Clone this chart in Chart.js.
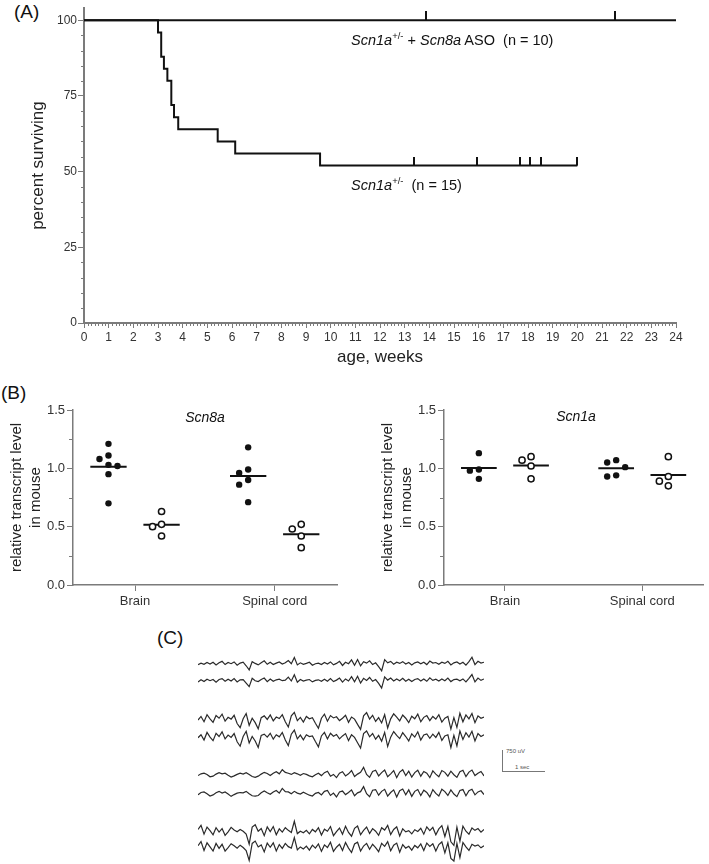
<!DOCTYPE html>
<html>
<head>
<meta charset="utf-8">
<script src="https://cdn.jsdelivr.net/npm/chart.js@4/dist/chart.umd.min.js"></script>
<style>
  body { margin: 0; background: #fff; }
  #fig { position: relative; width: 709px; height: 864px; font-family: Arial, "Liberation Sans", sans-serif; color: #111; overflow: hidden; }
  #fig canvas, .txt { position: absolute; }
  .panel { position: absolute; font-size: 19px; line-height: 19px; }
  .curve { position: absolute; font-size: 14.5px; line-height: 16px; white-space: nowrap; }
  .curve sup { font-size: 9.5px; vertical-align: 6px; line-height: 0; }
  .gene { position: absolute; width: 100px; text-align: center; font-size: 14px; line-height: 16px; font-style: italic; }
  .bar { position: absolute; background: #777; }
  .barText { position: absolute; font-size: 6px; line-height: 6px; color: #555; white-space: nowrap; }
</style>
</head>
<body>
<div id="fig">
  <div class="panel" style="left:14px;top:2px">(A)</div>
  <canvas id="survival" width="709" height="372" style="left:0;top:0"></canvas>
  <div class="curve" style="left:351px;top:32px"><i>Scn1a</i><sup>+/-</sup> + <i>Scn8a</i> ASO&nbsp;&nbsp;(n = 10)</div>
  <div class="curve" style="left:351px;top:177px"><i>Scn1a</i><sup>+/-</sup>&nbsp;&nbsp;(n = 15)</div>

  <div class="panel" style="left:1px;top:383px">(B)</div>
  <canvas id="scn8a" width="350" height="225" style="left:0;top:395px"></canvas>
  <canvas id="scn1a" width="359" height="225" style="left:350px;top:395px"></canvas>
  <div class="gene" style="left:155px;top:409px">Scn8a</div>
  <div class="gene" style="left:526px;top:408px">Scn1a</div>

  <div class="panel" style="left:157px;top:628px">(C)</div>
  <div class="bar" style="left:502px;top:750px;width:1px;height:21px"></div>
  <div class="bar" style="left:502px;top:771px;width:43px;height:1px"></div>
  <div class="barText" style="left:506px;top:748px">750 uV</div>
  <div class="barText" style="left:515px;top:764px">1 sec</div>
</div>
<script>
// ---- (A) survival ----
const weekTicks = [0, 1, 2, 3, 4, 5, 6, 7, 8, 9, 10, 11, 12, 13, 14, 15, 16, 17, 18, 19, 20, 21, 22, 23, 24];
const survivalTicks = [0, 25, 50, 75, 100];

const hetTimes = [0, 3.0, 3.13, 3.24, 3.38, 3.54, 3.65, 3.82, 5.42, 6.13, 9.57, 20];
const hetSurvival = [100, 96, 88, 84, 80, 72, 68, 64, 60, 56, 52, 52];
const hetCensored = [13.39, 15.95, 17.67, 18.1, 18.54, 20];

const asoTimes = [0, 24];
const asoSurvival = [100, 100];
const asoCensored = [13.85, 21.54];

// ---- (B) relative transcript level ----
const tissues = ['Brain', 'Spinal cord'];
const levelTicks = [0, 0.5, 1.0, 1.5];

const scn8aHetBrain = [1.21, 1.11, 1.08, 1.03, 1.02, 0.95, 0.70];
const scn8aAsoBrain = [0.63, 0.52, 0.50, 0.42];
const scn8aHetSpinal = [1.18, 0.99, 0.96, 0.90, 0.86, 0.71];
const scn8aAsoSpinal = [0.52, 0.48, 0.42, 0.32];

const scn1aHetBrain = [1.13, 0.99, 0.98, 0.91];
const scn1aAsoBrain = [1.10, 1.07, 1.02, 0.91];
const scn1aHetSpinal = [1.07, 1.05, 1.01, 0.94, 0.93];
const scn1aAsoSpinal = [1.10, 0.93, 0.89, 0.85];

// ---- (C) EEG traces, uV ----
const eeg1 = [
  -20, 30, -10, 50, 0, 60, -30, 40, 90, -20, 50, 10, 70, -40, 30, 60, -60, -200, 80, 20,
  -30, 40, 110, -10, 60, -20, 30, 70, 0, 40, 120, 10, 220, -30, 40, -10, 20, 60, -40, 10,
  30, -20, 50, 0, 70, -30, 20, 90, -50, 60, 10, 140, -40, 150, -60, 80, 30, 110, -20, 40,
  -90, -230, 150, 40, 90, -10, 60, 20, 80, 0, 50, -30, 40, 70, 10, 60, -20, 100, 30, 50,
  -10, 60, 20, 90, -30, 40, 70, 0, 60, -40, 80, 230, -20, 90, 30, 60];
const eeg2 = [
  -30, 40, -20, 60, 10, 50, -40, 50, 80, -10, 60, 0, 80, -30, 40, 50, -70, -190, 90, 10,
  -20, 50, 100, -20, 70, -10, 40, 60, 10, 30, 130, 0, 210, -40, 50, 0, 30, 50, -30, 20,
  40, -10, 60, -10, 80, -20, 30, 100, -40, 70, 0, 150, -30, 160, -70, 90, 20, 120, -10, 50,
  -80, -240, 140, 30, 100, 0, 70, 10, 90, -10, 60, -20, 50, 80, 0, 70, -10, 110, 20, 60,
  0, 70, 10, 100, -20, 50, 60, 10, 70, -30, 90, 220, -30, 100, 20, 70];
const eeg3 = [
  0, 120, -60, 180, 40, -80, 150, 60, 200, -40, 90, 30, 160, -120, -260, 40, 220, -180, 60, -90,
  -300, 80, 140, 20, 170, -30, 100, 50, 180, -60, -240, 140, 260, -20, 90, -70, 120, 40, 80, -110,
  -280, 60, 200, -40, 150, 70, 110, -20, 60, 160, -80, 100, 30, -150, -320, 140, 250, 30, 160, -50,
  80, -100, 180, -270, 40, 210, 100, -30, 170, 60, -90, 130, 40, 200, -60, 90, 150, -20, 120, 30,
  180, -70, 60, 120, -310, 80, -250, 230, -60, 170, 40, 220, -90, 140, 60, 100];
const eeg4 = [
  10, 110, -70, 190, 30, -90, 160, 50, 210, -30, 100, 20, 150, -130, -280, 50, 230, -170, 50, -100,
  -320, 90, 130, 30, 160, -40, 110, 40, 190, -70, -260, 130, 270, -30, 100, -60, 110, 50, 70, -120,
  -300, 70, 190, -30, 160, 60, 120, -30, 70, 150, -90, 110, 20, -160, -340, 150, 240, 40, 150, -40,
  90, -110, 190, -290, 30, 220, 90, -20, 180, 50, -100, 140, 30, 210, -70, 100, 140, -10, 130, 20,
  190, -80, 70, 110, -330, 90, -270, 240, -50, 180, 30, 230, -100, 150, 50, 110];
const eeg5 = [
  -20, 40, 60, 20, -60, -40, 30, 80, 40, 60, -10, -70, -30, 20, 60, 30, 80, 20, -50, -80,
  -40, 30, 90, 50, -20, 60, 110, 40, 180, 90, 60, 20, 80, 40, -10, 50, 20, -30, -60, 10,
  60, -20, 80, 130, -40, 20, -90, 60, 110, -30, 40, 150, -50, 30, 90, 260, 20, -80, 120, 160,
  -30, 80, 170, -60, 40, 150, -90, 100, 180, -20, 130, -70, 80, 160, -40, 120, 60, -90, 140, 30,
  -60, 150, 90, -40, 130, 10, -80, 110, 160, -50, 100, 170, -20, 60, 120, -30];
const eeg6 = [
  -30, 50, 70, 10, -70, -30, 40, 90, 30, 70, 0, -80, -20, 30, 50, 40, 90, 10, -60, -70,
  -50, 40, 100, 40, -10, 70, 120, 30, 190, 80, 70, 10, 90, 30, 0, 60, 10, -40, -70, 20,
  50, -30, 90, 120, -50, 30, -100, 70, 100, -20, 50, 140, -60, 40, 80, 250, 10, -90, 130, 150,
  -40, 90, 160, -70, 50, 140, -100, 110, 170, -30, 140, -80, 90, 150, -50, 130, 50, -100, 150, 20,
  -70, 160, 80, -50, 140, 0, -90, 120, 150, -60, 110, 160, -30, 70, 110, -20];
const eeg7 = [
  120, 260, -40, 200, 80, -60, 180, 30, 150, -80, 40, 190, 100, 40, 120, 60, -40, -380, 200, 280,
  60, 150, -90, 210, 50, 220, -60, 140, 30, 180, 90, 20, 400, -20, 60, 10, 90, -30, 120, 40,
  180, -70, 130, 60, 220, -90, 50, 170, -40, 230, 20, -110, 160, 240, -60, 90, 200, -20, 150, 60,
  -80, 180, 100, 260, -50, 120, 210, -100, 140, 40, 80, -30, 110, 50, 160, -40, 210, 80, 190, -60,
  140, 250, -120, 220, -300, -420, 200, -280, 230, 60, -40, 170, 90, 150, 30, 120];
const eeg8 = [
  110, 250, -50, 210, 70, -70, 190, 20, 160, -70, 50, 180, 110, 30, 130, 50, -50, -390, 190, 270,
  70, 140, -100, 200, 60, 210, -70, 150, 20, 190, 80, 30, 390, -30, 70, 0, 100, -40, 130, 30,
  170, -80, 140, 50, 230, -80, 60, 160, -50, 220, 30, -120, 170, 230, -70, 100, 190, -10, 160, 50,
  -90, 190, 90, 250, -60, 130, 200, -110, 150, 30, 90, -40, 120, 40, 170, -50, 200, 90, 180, -70,
  150, 240, -130, 210, -320, -410, 190, -290, 220, 70, -50, 160, 100, 140, 40, 110];

Chart.defaults.font.family = 'Arial, "Liberation Sans", sans-serif';
Chart.defaults.color = '#333';
Chart.defaults.animation = false;
Chart.defaults.plugins.legend.display = false;
Chart.defaults.plugins.tooltip.enabled = false;

const axisGray = '#7b7b7b';
const ink = '#111';

// short ticks without labels, drawn off the library's scales
const minorTicks = {
  id: 'minorTicks',
  afterDraw(chart, args, opts) {
    const {ctx, chartArea} = chart;
    ctx.save();
    ctx.strokeStyle = axisGray;
    ctx.lineWidth = 1;
    ctx.beginPath();
    (opts.y || []).forEach(v => {
      const y = Math.round(chart.scales.y.getPixelForValue(v)) + 0.5;
      ctx.moveTo(chartArea.left - opts.len, y);
      ctx.lineTo(chartArea.left, y);
    });
    (opts.x || []).forEach(v => {
      const x = Math.round(chart.scales.x.getPixelForValue(v)) + 0.5;
      ctx.moveTo(x, chartArea.bottom);
      ctx.lineTo(x, chartArea.bottom + opts.len);
    });
    ctx.stroke();
    ctx.restore();
  }
};

// spread dots that would overlap, like a column scatter plot
const beeswarm = {
  id: 'beeswarm',
  afterDatasetsUpdate(chart, args, opts) {
    chart.data.datasets.forEach((ds, i) => {
      if (!ds.swarm) return;
      const pts = chart.getDatasetMeta(i).data;
      const order = pts.map((p, k) => k).sort((a, b) => pts[a].y - pts[b].y);
      const placed = [];
      order.forEach(k => {
        const p = pts[k];
        for (let n = 0; n < 9; n++) {
          const dx = n === 0 ? 0 : Math.ceil(n / 2) * opts.step * (n % 2 ? -1 : 1);
          if (placed.every(q => Math.hypot(q.x - (p.x + dx), q.y - p.y) >= opts.gap)) {
            p.x += dx;
            break;
          }
        }
        placed.push(p);
      });
    });
  }
};

function censorMark() {
  const c = document.createElement('canvas');
  c.width = 2;
  c.height = 18;
  const g = c.getContext('2d');
  g.fillStyle = ink;
  g.fillRect(0, 0, 2, 9);
  return c;
}

function stepCurve(times, values) {
  return times.map((t, i) => ({x: t, y: values[i]}));
}

function levelAt(times, values, t) {
  let v = values[0];
  times.forEach((s, i) => { if (s <= t) v = values[i]; });
  return v;
}

const mark = censorMark();
const yMinorA = [];
for (let v = 5; v < 100; v += 5) if (v % 25) yMinorA.push(v);
const xMinorA = [];
for (let w = 0; w < 24; w++) for (let d = 1; d < 7; d++) xMinorA.push(w + d / 7);

new Chart(document.getElementById('survival'), {
  type: 'line',
  data: {
    datasets: [
      {data: stepCurve(asoTimes, asoSurvival), stepped: 'before', borderColor: ink, borderWidth: 2, pointRadius: 0},
      {data: stepCurve(hetTimes, hetSurvival), stepped: 'before', borderColor: ink, borderWidth: 2, pointRadius: 0},
      {data: asoCensored.map(t => ({x: t, y: levelAt(asoTimes, asoSurvival, t)})), showLine: false,
       pointStyle: mark, pointRadius: 5},
      {data: hetCensored.map(t => ({x: t, y: levelAt(hetTimes, hetSurvival, t)})), showLine: false,
       pointStyle: mark, pointRadius: 5}
    ]
  },
  options: {
    responsive: false,
    layout: {padding: {top: 8, right: 33, left: 0, bottom: 0}},
    scales: {
      x: {
        type: 'linear', min: 0, max: 24,
        afterBuildTicks: s => { s.ticks = weekTicks.map(v => ({value: v})); },
        afterFit: s => { s.height = 49; },
        ticks: {font: {size: 12}, color: '#333', padding: 2, autoSkip: false, maxRotation: 0, callback: v => String(v)},
        grid: {drawOnChartArea: false, tickLength: 5, tickColor: axisGray, tickWidth: 1},
        border: {color: axisGray, width: 2},
        title: {display: true, text: 'age, weeks', font: {size: 17}, color: '#222', padding: {top: 0, bottom: 4}}
      },
      y: {
        min: 0, max: 104,
        afterBuildTicks: s => { s.ticks = survivalTicks.map(v => ({value: v})); },
        afterFit: s => { s.width = 84; },
        ticks: {font: {size: 12}, color: '#333', padding: 1, callback: v => String(v)},
        grid: {drawOnChartArea: false, tickLength: 6, tickColor: axisGray, tickWidth: 1},
        border: {color: axisGray, width: 2},
        title: {display: true, text: 'percent surviving', font: {size: 17}, color: '#222', padding: {top: 28, bottom: 0}}
      }
    },
    plugins: {minorTicks: {y: yMinorA, x: xMinorA, len: 3}}
  },
  plugins: [minorTicks]
});

// ---- (B) ----
const groupShift = 0.19;
const meanHalf = 0.13;

function mean(a) { return a.reduce((s, v) => s + v, 0) / a.length; }

function dotSets(groups) {
  const sets = [];
  groups.forEach(g => {
    const x = g.tissue + (g.aso ? groupShift : -groupShift);
    sets.push({
      data: g.values.map(v => ({x, y: v})),
      swarm: true,
      pointRadius: g.aso ? 3.1 : 3.2,
      pointBackgroundColor: g.aso ? '#fff' : ink,
      pointBorderColor: ink,
      pointBorderWidth: g.aso ? 1.5 : 0,
      showLine: false
    });
    const m = mean(g.values);
    sets.push({
      data: [{x: x - meanHalf, y: m}, {x: x + meanHalf, y: m}],
      showLine: true, borderColor: ink, borderWidth: 2, pointRadius: 0
    });
  });
  return sets;
}

function dotChart(id, groups, yTitlePad) {
  new Chart(document.getElementById(id), {
    type: 'scatter',
    data: {datasets: dotSets(groups)},
    options: {
      responsive: false,
      layout: {padding: {top: 15, right: id === 'scn8a' ? 13 : 1, left: 0, bottom: 0}},
      scales: {
        x: {
          type: 'linear', min: 0.556, max: 2.446,
          afterBuildTicks: s => { s.ticks = tissues.map((t, i) => ({value: i + 1})); },
          afterFit: s => { s.height = 35; },
          ticks: {font: {size: 13}, color: '#333', padding: 3, autoSkip: false, maxRotation: 0,
                  callback: v => tissues[Math.round(v) - 1]},
          grid: {drawOnChartArea: false, tickLength: 6, tickColor: axisGray, tickWidth: 1},
          border: {color: axisGray, width: 1.5}
        },
        y: {
          min: 0, max: 1.5,
          afterBuildTicks: s => { s.ticks = levelTicks.map(v => ({value: v})); },
          afterFit: s => { s.width = id === 'scn8a' ? 73 : 94; },
          ticks: {font: {size: 13}, color: '#333', padding: 2, callback: v => v.toFixed(1)},
          grid: {drawOnChartArea: false, tickLength: 6, tickColor: axisGray, tickWidth: 1},
          border: {color: axisGray, width: 1.5},
          title: {display: true, text: ['relative transcript level', 'in mouse'],
                  font: {size: 15, lineHeight: 1.3}, color: '#222', padding: {top: yTitlePad, bottom: 0}}
        }
      },
      plugins: {
        minorTicks: {y: [0.25, 0.75, 1.25], len: 4},
        beeswarm: {step: 9, gap: 7.5}
      }
    },
    plugins: [minorTicks, beeswarm]
  });
}

dotChart('scn8a', [
  {tissue: 1, aso: false, values: scn8aHetBrain},
  {tissue: 1, aso: true, values: scn8aAsoBrain},
  {tissue: 2, aso: false, values: scn8aHetSpinal},
  {tissue: 2, aso: true, values: scn8aAsoSpinal}
], 7);

dotChart('scn1a', [
  {tissue: 1, aso: false, values: scn1aHetBrain},
  {tissue: 1, aso: true, values: scn1aAsoBrain},
  {tissue: 2, aso: false, values: scn1aHetSpinal},
  {tissue: 2, aso: true, values: scn1aAsoSpinal}
], 28);

// ---- (C) ----
const traces = [eeg1, eeg2, eeg3, eeg4, eeg5, eeg6, eeg7, eeg8];
const traceCenters = [664, 681, 720, 738, 775, 794, 833, 849];
const fig = document.getElementById('fig');

traces.forEach((samples, i) => {
  const c = document.createElement('canvas');
  c.width = 286;
  c.height = 30;
  c.style.left = '198px';
  c.style.top = (traceCenters[i] - 15) + 'px';
  fig.appendChild(c);
  new Chart(c, {
    type: 'line',
    data: {
      labels: samples.map((v, k) => k),
      datasets: [{data: samples, borderColor: '#2a2a2a', borderWidth: 1.2, pointRadius: 0, tension: 0}]
    },
    options: {
      responsive: false,
      layout: {padding: 0},
      scales: {
        x: {display: false},
        y: {display: false, min: -510, max: 510}
      }
    }
  });
});
</script>
</body>
</html>
